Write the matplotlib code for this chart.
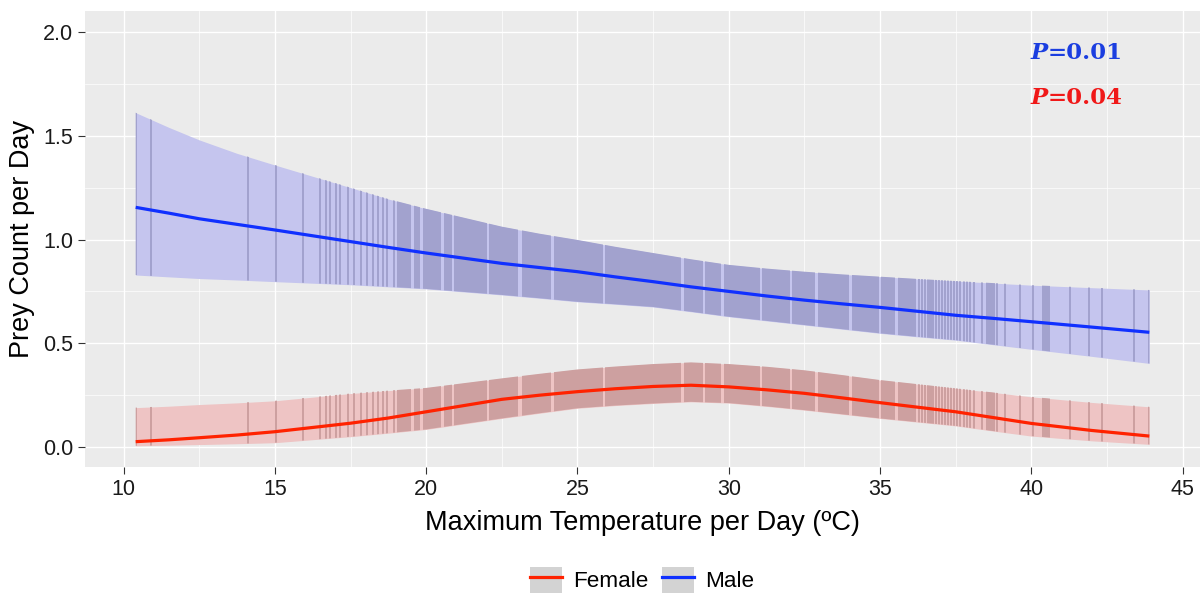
import matplotlib.pyplot as plt
import numpy as np
from matplotlib.patches import Patch
from matplotlib.lines import Line2D

plt.rcParams['font.family'] = ['Liberation Sans', 'DejaVu Sans']

# model fit (temperature in deg C)
temp = [10.4, 11.5, 12.5, 13.75, 15, 17.5, 18.75, 20, 22.5, 23.75, 25, 26.25, 27.5, 28.75,
        30, 31.25, 32.5, 33.75, 35, 36.25, 37.5, 38.75, 40, 42, 43.9]
male_fit = [1.155, 1.127, 1.10, 1.073, 1.046, 0.99, 0.962, 0.935, 0.885, 0.865, 0.845, 0.82,
            0.797, 0.772, 0.75, 0.728, 0.708, 0.69, 0.673, 0.654, 0.635, 0.62, 0.604, 0.578, 0.553]
male_hi = [1.611, 1.54, 1.48, 1.415, 1.359, 1.25, 1.195, 1.148, 1.062, 1.028, 0.998, 0.965,
           0.935, 0.905, 0.878, 0.86, 0.845, 0.832, 0.821, 0.81, 0.80, 0.79, 0.78, 0.768, 0.757]
male_lo = [0.829, 0.82, 0.812, 0.805, 0.797, 0.782, 0.772, 0.762, 0.733, 0.717, 0.70, 0.688,
           0.675, 0.652, 0.628, 0.608, 0.588, 0.568, 0.548, 0.531, 0.515, 0.493, 0.471, 0.437, 0.403]
female_fit = [0.026, 0.035, 0.045, 0.058, 0.074, 0.115, 0.14, 0.17, 0.23, 0.25, 0.267, 0.281,
              0.292, 0.298, 0.29, 0.276, 0.259, 0.237, 0.214, 0.192, 0.17, 0.142, 0.114, 0.08, 0.053]
female_hi = [0.19, 0.197, 0.205, 0.213, 0.223, 0.258, 0.272, 0.285, 0.331, 0.353, 0.374, 0.388,
             0.40, 0.408, 0.40, 0.387, 0.37, 0.347, 0.323, 0.303, 0.283, 0.263, 0.242, 0.215, 0.194]
female_lo = [0.006, 0.009, 0.012, 0.016, 0.021, 0.05, 0.067, 0.085, 0.138, 0.163, 0.187, 0.2,
             0.21, 0.218, 0.212, 0.196, 0.178, 0.158, 0.138, 0.12, 0.102, 0.077, 0.053, 0.03, 0.013]

# observed daily max temperatures (vertical marks inside the ribbons)
obs_temp = [10.42, 10.92, 14.12, 15.05, 15.93, 16.5, 16.7, 16.83, 17.03, 17.16, 17.41,
            17.62, 17.85, 18.05, 18.24, 18.4, 18.57, 18.72, 18.95,
            36.3, 36.4, 36.48, 36.58, 36.67, 36.75, 36.85, 36.95, 37.05, 37.15, 37.25,
            37.35, 37.45, 37.55, 37.65, 37.77, 37.88, 37.98, 38.1, 38.37, 38.54, 38.62,
            38.7, 38.78, 38.87, 39.14, 39.64, 40.07, 41.29, 41.9, 42.33, 43.38, 43.88]
# stretches where the observations are packed solid
dense_spans = [(19.05, 19.5), (19.6, 19.8), (19.88, 20.5), (20.6, 20.85), (20.92, 22.0),
               (22.08, 23.02), (23.16, 24.14), (24.22, 25.84), (25.92, 28.43),
               (28.51, 29.15), (29.23, 29.76), (29.84, 31.02), (31.1, 32.01), (32.09, 32.86),
               (32.94, 33.99), (34.07, 34.95), (35.03, 35.5), (35.58, 36.2), (40.36, 40.62)]

p_labels = ['0.01', '0.04']
p_colors = ['#1B3EE0', '#F01818']

# merge the marks into non-overlapping spans
hw = 0.035
spans = sorted([(t - hw, t + hw) for t in obs_temp] + dense_spans)
merged = []
for a, b in spans:
    if merged and a <= merged[-1][1]:
        merged[-1] = (merged[-1][0], max(merged[-1][1], b))
    else:
        merged.append((a, b))

fig = plt.figure(figsize=(12.04, 5.93), dpi=100)
ax = fig.add_axes([85 / 1204, 1 - 467 / 593, 1115 / 1204, 456 / 593])
ax.set_facecolor('#EBEBEB')


def ribbon(lo, hi, fit, light, dark, line_col):
    poly = ax.fill_between(temp, lo, hi, color=light, lw=0, zorder=2)
    clip = poly.get_paths()[0]
    for a, b in merged:
        sp = ax.axvspan(a, b, color=dark, lw=0, zorder=2.1)
        sp.set_clip_path(clip, ax.transData)
    ax.plot(temp, fit, color=line_col, lw=2.3, zorder=3, solid_capstyle='butt')


ribbon(male_lo, male_hi, male_fit, '#C5C5EE', '#A2A2CE', '#1030FF')
ribbon(female_lo, female_hi, female_fit, '#EEC4C4', '#CDA0A0', '#FF2200')

ax.set_xlim(8.725, 45.575)
ax.set_ylim(-0.096, 2.101)
ax.set_xticks([10, 15, 20, 25, 30, 35, 40, 45])
ax.set_xticks(np.arange(12.5, 45, 5), minor=True)
ax.set_yticks([0, 0.5, 1.0, 1.5, 2.0])
ax.set_yticks([0.25, 0.75, 1.25, 1.75], minor=True)
ax.set_yticklabels(['0.0', '0.5', '1.0', '1.5', '2.0'])
ax.grid(which='major', color='white', lw=1.0)
ax.grid(which='minor', color='white', lw=0.5)
ax.set_axisbelow(True)
for s in ax.spines.values():
    s.set_visible(False)
ax.tick_params(which='major', length=5, width=0.8, color='#333333', labelsize=15.5,
               labelcolor='#1a1a1a', pad=3.5)
ax.tick_params(which='minor', length=0)

ax.set_xlabel('Maximum Temperature per Day (ºC)', fontsize=19.5, labelpad=7)
ax.set_ylabel('Prey Count per Day', fontsize=19.5, labelpad=6)

# P-value annotations
for lab, col, yv in zip(p_labels, p_colors, [1.90, 1.68]):
    ax.text(40.55, yv, 'P', color=col, fontsize=16.5, family='DejaVu Serif',
            fontweight='bold', fontstyle='italic', ha='right', va='center')
    ax.text(40.55, yv, '=' + lab, color=col, fontsize=16.5, family='DejaVu Serif',
            fontweight='bold', ha='left', va='center')

handles = [(Patch(fc='#D3D3D3', ec='none'), Line2D([], [], color='#FF2200', lw=2.3)),
           (Patch(fc='#D3D3D3', ec='none'), Line2D([], [], color='#1030FF', lw=2.3))]
fig.legend(handles, ['Female', 'Male'], loc='center', bbox_to_anchor=(642.5 / 1204, 1 - 580 / 593),
           ncol=2, frameon=False, fontsize=16.2, handlelength=1.42, handleheight=1.42,
           handletextpad=0.5, columnspacing=0.6, borderaxespad=0)

plt.savefig('out.png', dpi=100)
